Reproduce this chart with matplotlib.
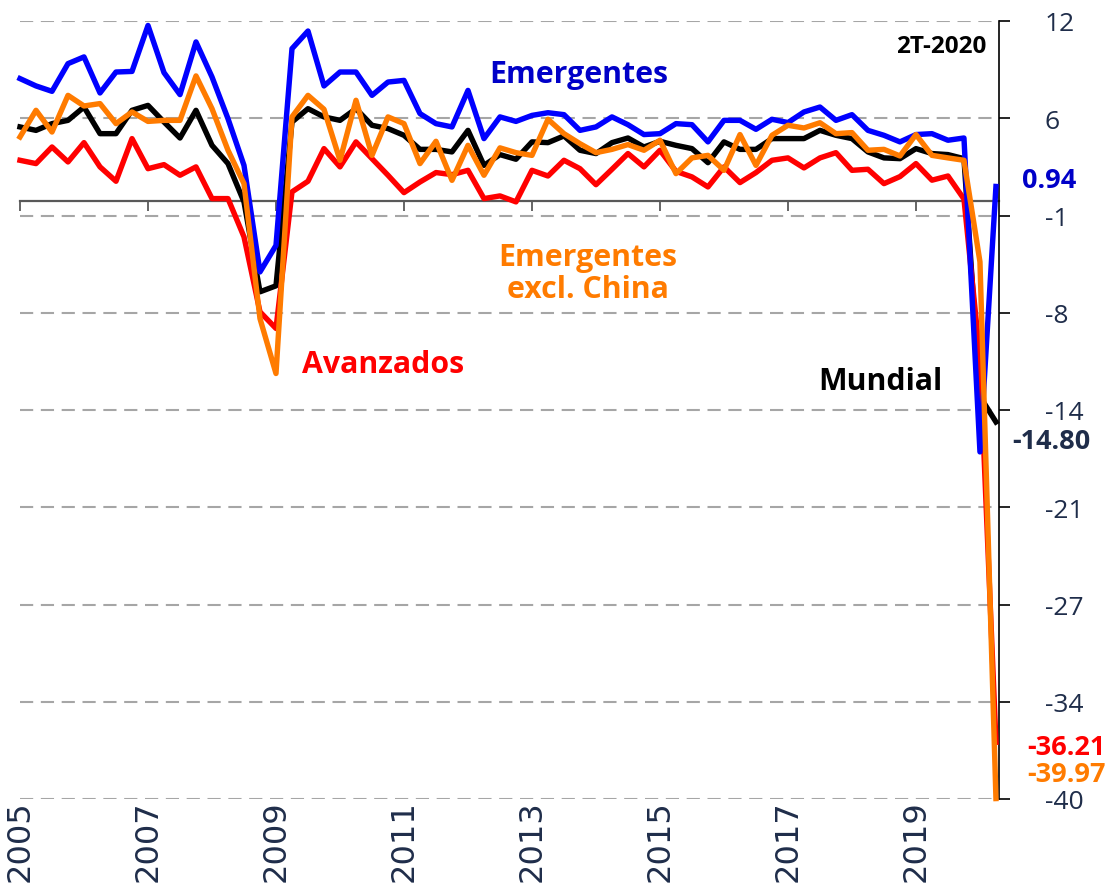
import matplotlib
matplotlib.use("Agg")
import matplotlib.pyplot as plt

plt.rcParams['lines.scale_dashes'] = False

# ---------------- data ----------------
quarters = list(range(62))  # 2005Q1 .. 2020Q2
year_ticks = [0, 8, 16, 24, 32, 40, 48, 56]
year_labels = ['2005', '2007', '2009', '2011', '2013', '2015', '2017', '2019']

mundial = [4.92, 4.69, 5.14, 5.36, 6.25, 4.47, 4.47, 6.03, 6.36, 5.25,
           4.18, 6.03, 3.69, 2.47, -0.09, -6.1, -5.7, 5.25, 6.14, 5.59,
           5.36, 6.14, 5.03, 4.81, 4.36, 3.42, 3.42, 3.25, 4.69, 2.35,
           3.07, 2.76, 3.92, 3.87, 4.32, 3.36, 3.14, 3.87, 4.18, 3.58,
           3.96, 3.69, 3.47, 2.53, 3.92, 3.42, 3.42, 4.14, 4.14, 4.14,
           4.69, 4.36, 4.14, 3.25, 2.85, 2.8, 3.47, 3.14, 3.07, 2.8,
           -13.1, -14.80]

emergentes = [8.15, 7.66, 7.3, 9.15, 9.6, 7.19, 8.59, 8.63, 11.7, 8.55,
              7.08, 10.6, 8.26, 5.47, 2.35, -4.77, -3.0, 10.15, 11.33, 7.66,
              8.59, 8.59, 7.03, 7.92, 8.03, 5.81, 5.14, 4.92, 7.36, 4.14,
              5.59, 5.29, 5.69, 5.87, 5.74, 4.69, 4.92, 5.59, 5.07, 4.41,
              4.47, 5.14, 5.07, 3.92, 5.36, 5.36, 4.76, 5.43, 5.21, 5.92,
              6.25, 5.36, 5.74, 4.69, 4.36, 3.92, 4.41, 4.47, 4.03, 4.18,
              -16.8, 0.94]

avanzados = [2.69, 2.47, 3.58, 2.58, 3.87, 2.25, 1.29, 4.14, 2.13, 2.4,
             1.69, 2.25, 0.13, 0.13, -2.43, -7.44, -8.55, 0.58, 1.29, 3.47,
             2.25, 3.92, 2.8, 1.69, 0.53, 1.24, 1.87, 1.73, 2.02, 0.13,
             0.31, -0.09, 2.02, 1.64, 2.69, 2.13, 1.06, 2.09, 3.14, 2.25,
             3.36, 1.95, 1.58, 0.91, 2.25, 1.2, 1.87, 2.69, 2.85, 2.18,
             2.85, 3.2, 2.02, 2.09, 1.13, 1.6, 2.47, 1.36, 1.64, 0.1,
             -10.5, -36.21]

emergentes_ex_china = [4.25, 6.03, 4.58, 7.03, 6.32, 6.48, 5.14, 5.92, 5.29, 5.36,
                       5.36, 8.33, 6.14, 3.36, 1.13, -7.89, -11.56, 5.59, 7.03, 6.1,
                       2.69, 6.7, 3.02, 5.59, 5.14, 2.47, 3.96, 1.35, 3.69, 1.69,
                       3.52, 3.2, 3.02, 5.43, 4.47, 3.8, 3.2, 3.42, 3.74, 3.36,
                       4.03, 1.8, 2.85, 3.02, 2.02, 4.41, 2.35, 4.36, 5.03, 4.85,
                       5.2, 4.47, 4.54, 3.36, 3.42, 2.98, 4.41, 3.02, 2.85, 2.69,
                       -4.1, -39.97]

y_ticks = [12, 5.5, -1, -7.5, -14, -20.5, -27, -33.5, -40]
y_tick_labels = ['12', '6', '-1', '-8', '-14', '-21', '-27', '-34', '-40']

# ---------------- styling ----------------
NAVY = '#1F2D4A'
BLUE = '#0000FF'
BLUE_TXT = '#0000C8'
RED = '#FF0000'
ORANGE = '#FF7B00'
FONT = 'Open Sans'

W, H = 1114, 887
fig = plt.figure(figsize=(W / 100, H / 100), dpi=100)
ax = fig.add_axes([20 / W, 1 - 800 / H, (999 - 20) / W, (800 - 22) / H])
ax.set_xlim(0, 61.19)
ax.set_ylim(-40, 12)

lw = 3.9
ax.plot(quarters, mundial, color='black', lw=lw, zorder=3, clip_on=False,
        solid_joinstyle='round')
ax.plot(quarters, avanzados, color=RED, lw=lw, zorder=4, clip_on=False,
        solid_joinstyle='round')
ax.plot(quarters, emergentes, color=BLUE, lw=lw, zorder=5, clip_on=False,
        solid_joinstyle='round')
ax.plot(quarters, emergentes_ex_china, color=ORANGE, lw=lw, zorder=6, clip_on=False,
        solid_joinstyle='round')

# axes / spines
for s in ['left', 'top']:
    ax.spines[s].set_visible(False)
ax.spines['right'].set_color('black')
ax.spines['right'].set_linewidth(1.2)
ax.spines['bottom'].set_position(('data', 0))
ax.spines['bottom'].set_color('#595959')
ax.spines['bottom'].set_linewidth(1.6)
ax.spines['bottom'].set_zorder(2)

ax.yaxis.tick_right()
ax.set_yticks(y_ticks)
ax.set_yticklabels(y_tick_labels, fontsize=19, color=NAVY, family=FONT)
ax.tick_params(axis='y', direction='out', length=8, width=1.2, color='black', pad=25)
ax.yaxis.grid(True, linestyle=(0, (9.5, 5.5)), color='#A6A6A6', lw=1.5)
ax.set_axisbelow(True)

ax.set_xticks(year_ticks)
ax.tick_params(axis='x', direction='out', length=7, width=1.3, color='#595959',
               labelbottom=False)

sec = ax.secondary_xaxis('bottom')
sec.set_xticks(year_ticks)
sec.set_xticklabels(year_labels, rotation=90, fontsize=23, color=NAVY,
                    family='DejaVu Sans')
sec.tick_params(axis='x', length=0, pad=0)
sec.spines['bottom'].set_visible(False)

# ---------------- annotations ----------------
def ftext(x, y, s, **kw):
    fig.text(x / W, 1 - y / H, s, **kw)

ftext(579, 75, 'Emergentes', color=BLUE_TXT, fontsize=21.8, fontweight='bold',
      family=FONT, ha='center', va='center')
ftext(588, 274, 'Emergentes\nexcl. China', color=ORANGE, fontsize=21.8,
      fontweight='bold', family=FONT, ha='center', va='center', linespacing=1.12)
ftext(383, 365, 'Avanzados', color=RED, fontsize=21.8, fontweight='bold',
      family=FONT, ha='center', va='center')
ftext(880, 382, 'Mundial', color='black', fontsize=21.8, fontweight='bold',
      family=FONT, ha='center', va='center')
ftext(941, 47, '2T-2020', color='black', fontsize=17.5, fontweight='bold',
      family=FONT, ha='center', va='center')

ftext(1022, 181, f'{emergentes[-1]:.2f}', color=BLUE_TXT, fontsize=19.5,
      fontweight='bold', family=FONT, ha='left', va='center')
ftext(1012, 442, f'{mundial[-1]:.2f}', color=NAVY, fontsize=19.5,
      fontweight='bold', family=FONT, ha='left', va='center')
ftext(1027, 748, f'{avanzados[-1]:.2f}', color=RED, fontsize=19.5,
      fontweight='bold', family=FONT, ha='left', va='center')
ftext(1027, 775, f'{emergentes_ex_china[-1]:.2f}', color=ORANGE, fontsize=19.5,
      fontweight='bold', family=FONT, ha='left', va='center')

fig.savefig('out.png', dpi=100)
